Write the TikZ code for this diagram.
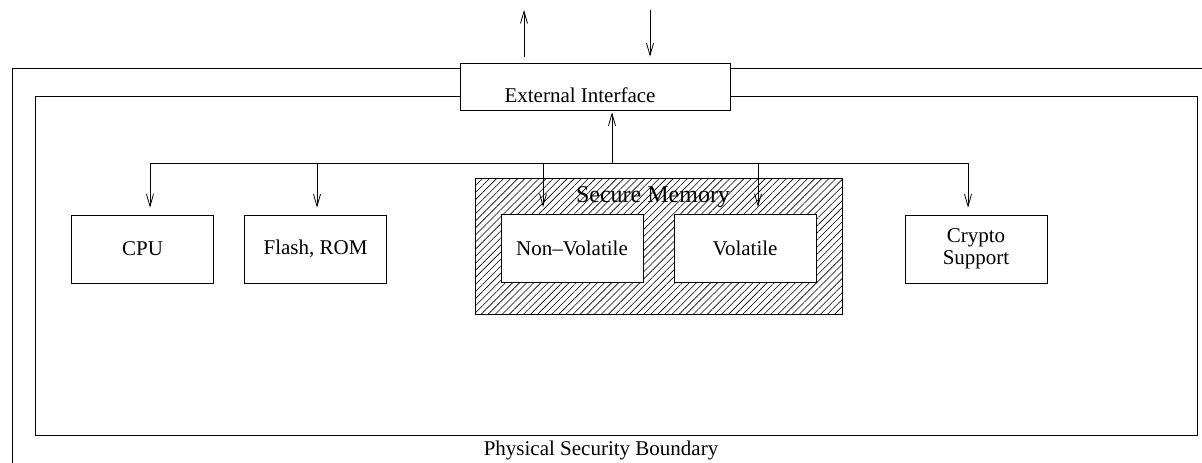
\documentclass[tikz,border=0pt]{standalone}
\usepackage{fontspec}
\setmainfont{Liberation Serif}
\usetikzlibrary{arrows.meta,patterns.meta}

\begin{document}
\begin{tikzpicture}[x=1pt,y=-1pt,line width=0.8pt,
  txt/.style={font=\fontsize{21}{21.5}\selectfont,align=center,inner sep=0pt},
  box/.style={draw,fill=white,minimum width=142pt,minimum height=68pt,txt},
  arr/.style={-{Straight Barb[length=12pt,width=7pt]}}]
\useasboundingbox (0,0) rectangle (1202,463);
%%%%%%%%% boundaries
\draw (1202,68) -- (12,68) -- (12,463);
\draw (35,96) rectangle (1197,435);
\node[txt] (psb) at (601,450) {Physical Security Boundary};

%%%%%%%%% external interface
\node[box,minimum width=270pt,minimum height=47pt] (ext) at (595,86.5) {};
\node[txt] (extlbl) at (580,95) {External Interface};

\coordinate (outp) at (524,10);
\coordinate (inp) at (650,10);
\draw[arr,shorten <=6pt] (ext.north -| outp) to (outp);
\draw[arr,shorten >=6pt] (inp) to (inp |- ext.north);

%%%%%%%%% secure memory
\node[draw,pattern={Lines[angle=45,distance=5pt,line width=0.6pt]},
  minimum width=367pt,minimum height=136pt] (sec) at (658.5,246) {};
\node[font=\fontsize{24}{26}\selectfont,inner sep=0pt] (seclbl) at (653,197) {Secure Memory};
\node[box] (nvol) at (572,248.5) {Non--Volatile};
\node[box] (vol) at (745,248.5) {Volatile};

%%%%%%%%% other units
\node[box] (cpu) at (142.5,249) {CPU};
\node[box] (flash) at (315.5,249) {Flash, ROM};
\node[box] (crypto) at (976,249) {Crypto\\Support};

%%%%%%%%% bus
\coordinate (bcpu) at (150,163);
\coordinate (bflash) at (317,163);
\coordinate (bnvol) at (543,163);
\coordinate (bext) at (612,163);
\coordinate (bvol) at (758,163);
\coordinate (bcrypto) at (968,163);

\draw (bcpu) to (bcrypto);
\draw[arr,shorten >=2pt] (bext) to (bext |- ext.south);
\draw[arr,shorten >=7pt] (bcpu) to (bcpu |- cpu.north);
\draw[arr,shorten >=7pt] (bflash) to (bflash |- flash.north);
\draw[arr,shorten >=7pt] (bnvol) to (bnvol |- nvol.north);
\draw[arr,shorten >=7pt] (bvol) to (bvol |- vol.north);
\draw[arr,shorten >=7pt] (bcrypto) to (bcrypto |- crypto.north);

\end{tikzpicture}
\end{document}
